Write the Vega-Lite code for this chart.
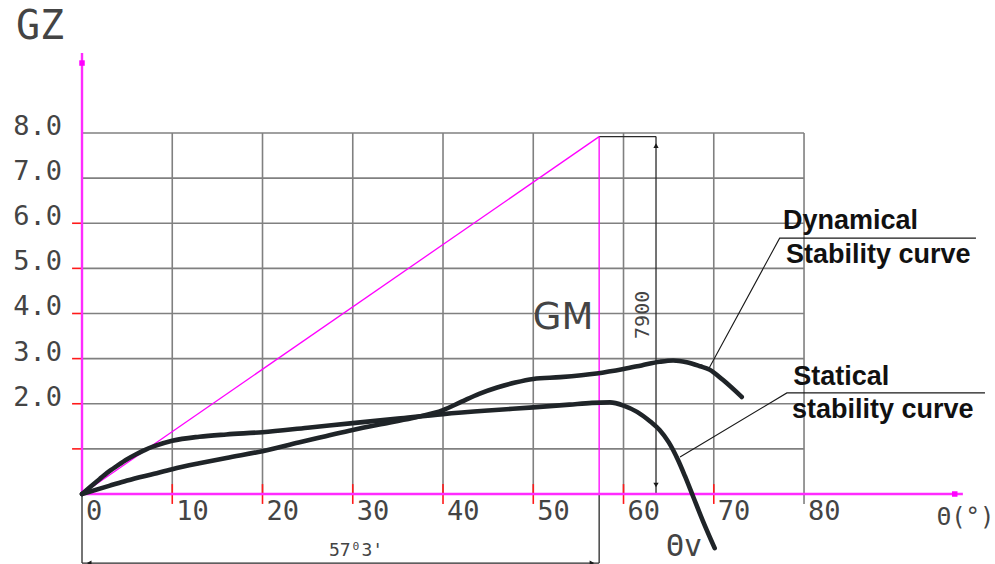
{
  "$schema": "https://vega.github.io/schema/vega-lite/v6.json",
  "width": 995,
  "height": 564,
  "autosize": {"type": "none"},
  "padding": 0,
  "background": "white",
  "config": {"view": {"stroke": null}, "axis": {"disable": true}, "legend": {"disable": true}},
  "datasets": {
    "gridV": [{"deg": 10}, {"deg": 20}, {"deg": 30}, {"deg": 40}, {"deg": 50}, {"deg": 60}, {"deg": 70}, {"deg": 80}],
    "gridH": [{"gz": 1}, {"gz": 2}, {"gz": 3}, {"gz": 4}, {"gz": 5}, {"gz": 6}, {"gz": 7}, {"gz": 8}],
    "xTicksRed": [{"deg": 10}, {"deg": 20}, {"deg": 30}, {"deg": 40}, {"deg": 50}, {"deg": 60}, {"deg": 70}],
    "xTicksGrey": [{"deg": 80}],
    "yTicksRed": [{"gz": 1}, {"gz": 2}, {"gz": 3}, {"gz": 4}, {"gz": 5}, {"gz": 6}],
    "xLabels": [
      {"deg": 0, "label": "0"}, {"deg": 10, "label": "10"}, {"deg": 20, "label": "20"}, {"deg": 30, "label": "30"},
      {"deg": 40, "label": "40"}, {"deg": 50, "label": "50"}, {"deg": 60, "label": "60"}, {"deg": 70, "label": "70"}, {"deg": 80, "label": "80"}
    ],
    "yLabels": [
      {"gz": 2, "label": "2.0"}, {"gz": 3, "label": "3.0"}, {"gz": 4, "label": "4.0"}, {"gz": 5, "label": "5.0"},
      {"gz": 6, "label": "6.0"}, {"gz": 7, "label": "7.0"}, {"gz": 8, "label": "8.0"}
    ],
    "dims": [
      {"x": 0, "y": 0, "x2": 0, "y2": -1.53},
      {"x": 57.3, "y": 0, "x2": 57.3, "y2": -1.53},
      {"x": 0, "y": -1.53, "x2": 57.3, "y2": -1.53},
      {"x": 57.3, "y": 7.92, "x2": 63.6, "y2": 7.92},
      {"x": 63.6, "y": 7.92, "x2": 63.6, "y2": 0}
    ],
    "gmLines": [
      {"x": 0, "y": 0, "x2": 57.3, "y2": 7.92},
      {"x": 57.3, "y": 0, "x2": 57.3, "y2": 7.92}
    ],
    "axes": [
      {"x": 0, "y": 0, "x2": 97.6, "y2": 0},
      {"x": 0, "y": 0, "x2": 0, "y2": 9.77}
    ],
    "axisEnds": [{"x": 0, "y": 9.55}, {"x": 96.7, "y": 0}],
    "arrows": [
      {"x": 63.6, "y": 7.72, "dir": "up"},
      {"x": 63.6, "y": 0.2, "dir": "down"},
      {"x": 0.8, "y": -1.53, "dir": "left"},
      {"x": 56.5, "y": -1.53, "dir": "right"}
    ],
    "leaders": [
      {"leader": "dyn", "step": 0, "x": 69.4, "y": 2.76},
      {"leader": "dyn", "step": 1, "x": 77.3, "y": 5.67},
      {"leader": "dyn", "step": 2, "x": 99.05, "y": 5.67},
      {"leader": "stat", "step": 0, "x": 66.26, "y": 0.82},
      {"leader": "stat", "step": 1, "x": 78.1, "y": 2.24},
      {"leader": "stat", "step": 2, "x": 100.05, "y": 2.24}
    ],
    "curves": [
      {"curve": "statical", "deg": 0, "gz": 0},
      {"curve": "statical", "deg": 1, "gz": 0.17},
      {"curve": "statical", "deg": 2, "gz": 0.34},
      {"curve": "statical", "deg": 3, "gz": 0.5},
      {"curve": "statical", "deg": 4, "gz": 0.64},
      {"curve": "statical", "deg": 5, "gz": 0.77},
      {"curve": "statical", "deg": 6, "gz": 0.88},
      {"curve": "statical", "deg": 7, "gz": 0.98},
      {"curve": "statical", "deg": 8, "gz": 1.06},
      {"curve": "statical", "deg": 10, "gz": 1.18},
      {"curve": "statical", "deg": 13, "gz": 1.27},
      {"curve": "statical", "deg": 16, "gz": 1.32},
      {"curve": "statical", "deg": 20, "gz": 1.37},
      {"curve": "statical", "deg": 25, "gz": 1.47},
      {"curve": "statical", "deg": 30, "gz": 1.57},
      {"curve": "statical", "deg": 35, "gz": 1.67},
      {"curve": "statical", "deg": 40, "gz": 1.77},
      {"curve": "statical", "deg": 45, "gz": 1.85},
      {"curve": "statical", "deg": 50, "gz": 1.92},
      {"curve": "statical", "deg": 54, "gz": 1.98},
      {"curve": "statical", "deg": 56.5, "gz": 2.02},
      {"curve": "statical", "deg": 58.5, "gz": 2.03},
      {"curve": "statical", "deg": 60, "gz": 1.96},
      {"curve": "statical", "deg": 61.5, "gz": 1.82},
      {"curve": "statical", "deg": 63, "gz": 1.6},
      {"curve": "statical", "deg": 64, "gz": 1.42},
      {"curve": "statical", "deg": 65, "gz": 1.15},
      {"curve": "statical", "deg": 66, "gz": 0.77},
      {"curve": "statical", "deg": 66.8, "gz": 0.4},
      {"curve": "statical", "deg": 67.7, "gz": -0.05},
      {"curve": "statical", "deg": 68.8, "gz": -0.6},
      {"curve": "statical", "deg": 70.1, "gz": -1.2},
      {"curve": "dynamical", "deg": 0, "gz": 0},
      {"curve": "dynamical", "deg": 3, "gz": 0.18},
      {"curve": "dynamical", "deg": 5, "gz": 0.3},
      {"curve": "dynamical", "deg": 8, "gz": 0.45},
      {"curve": "dynamical", "deg": 10, "gz": 0.55},
      {"curve": "dynamical", "deg": 13, "gz": 0.68},
      {"curve": "dynamical", "deg": 16, "gz": 0.8},
      {"curve": "dynamical", "deg": 20, "gz": 0.95},
      {"curve": "dynamical", "deg": 24, "gz": 1.14},
      {"curve": "dynamical", "deg": 27, "gz": 1.28},
      {"curve": "dynamical", "deg": 30, "gz": 1.42},
      {"curve": "dynamical", "deg": 34, "gz": 1.58},
      {"curve": "dynamical", "deg": 37, "gz": 1.7},
      {"curve": "dynamical", "deg": 40, "gz": 1.86},
      {"curve": "dynamical", "deg": 42, "gz": 2.04},
      {"curve": "dynamical", "deg": 44, "gz": 2.22},
      {"curve": "dynamical", "deg": 46, "gz": 2.36},
      {"curve": "dynamical", "deg": 48, "gz": 2.47},
      {"curve": "dynamical", "deg": 50, "gz": 2.55},
      {"curve": "dynamical", "deg": 53, "gz": 2.59},
      {"curve": "dynamical", "deg": 57, "gz": 2.67},
      {"curve": "dynamical", "deg": 60, "gz": 2.77},
      {"curve": "dynamical", "deg": 62, "gz": 2.85},
      {"curve": "dynamical", "deg": 64, "gz": 2.93},
      {"curve": "dynamical", "deg": 65.5, "gz": 2.96},
      {"curve": "dynamical", "deg": 67, "gz": 2.92},
      {"curve": "dynamical", "deg": 68.5, "gz": 2.83},
      {"curve": "dynamical", "deg": 69.5, "gz": 2.76},
      {"curve": "dynamical", "deg": 71, "gz": 2.53},
      {"curve": "dynamical", "deg": 73.1, "gz": 2.15}
    ],
    "tGZ": [{"x": -4.65, "y": 10.35, "label": "GZ"}],
    "tGM": [{"x": 53.3, "y": 3.9, "label": "GM"}],
    "t7900": [{"x": 62.16, "y": 3.97, "label": "7900"}],
    "tAngle": [{"x": 30.36, "y": -1.26, "label": "57⁰3'"}],
    "tThetaV": [{"x": 66.7, "y": -1.17, "label": "Θv"}],
    "tTheta": [{"x": 97.9, "y": -0.53, "label": "Θ(°)"}],
    "tBold": [
      {"x": 77.67, "y": 5.87, "label": "Dynamical"},
      {"x": 78.0, "y": 5.12, "label": "Stability curve"},
      {"x": 78.8, "y": 2.42, "label": "Statical"},
      {"x": 78.67, "y": 1.68, "label": "stability curve"}
    ]
  },
  "layer": [
    {
      "data": {"name": "gridV"},
      "mark": {"type": "rule", "color": "#808080", "strokeWidth": 1.6},
      "encoding": {
        "x": {"field": "deg", "type": "quantitative", "scale": {"domain": [-9.086, 101.16], "nice": false, "zero": false}},
        "y": {"datum": 0, "scale": {"domain": [-1.551, 10.947], "nice": false, "zero": false}},
        "y2": {"datum": 8}
      }
    },
    {
      "data": {"name": "gridH"},
      "mark": {"type": "rule", "color": "#808080", "strokeWidth": 1.6},
      "encoding": {
        "x": {"datum": 0},
        "x2": {"datum": 80},
        "y": {"field": "gz", "type": "quantitative"}
      }
    },
    {
      "data": {"name": "xTicksRed"},
      "mark": {"type": "rule", "color": "#ff1a1a", "strokeWidth": 1.6},
      "encoding": {
        "x": {"field": "deg", "type": "quantitative"},
        "y": {"datum": -0.22},
        "y2": {"datum": 0.22}
      }
    },
    {
      "data": {"name": "xTicksGrey"},
      "mark": {"type": "rule", "color": "#808080", "strokeWidth": 1.6},
      "encoding": {
        "x": {"field": "deg", "type": "quantitative"},
        "y": {"datum": -0.22},
        "y2": {"datum": 0}
      }
    },
    {
      "data": {"name": "yTicksRed"},
      "mark": {"type": "rule", "color": "#ff1a1a", "strokeWidth": 1.6},
      "encoding": {
        "x": {"datum": -1.1},
        "x2": {"datum": 0},
        "y": {"field": "gz", "type": "quantitative"}
      }
    },
    {
      "data": {"name": "dims"},
      "mark": {"type": "rule", "color": "#2a2a2a", "strokeWidth": 1.3},
      "encoding": {
        "x": {"field": "x", "type": "quantitative"},
        "y": {"field": "y", "type": "quantitative"},
        "x2": {"field": "x2"},
        "y2": {"field": "y2"}
      }
    },
    {
      "data": {"name": "gmLines"},
      "mark": {"type": "rule", "color": "#ff00ff", "strokeWidth": 1.3},
      "encoding": {
        "x": {"field": "x", "type": "quantitative"},
        "y": {"field": "y", "type": "quantitative"},
        "x2": {"field": "x2"},
        "y2": {"field": "y2"}
      }
    },
    {
      "data": {"name": "axes"},
      "mark": {"type": "rule", "color": "#ff2bff", "strokeWidth": 2.4},
      "encoding": {
        "x": {"field": "x", "type": "quantitative"},
        "y": {"field": "y", "type": "quantitative"},
        "x2": {"field": "x2"},
        "y2": {"field": "y2"}
      }
    },
    {
      "data": {"name": "axisEnds"},
      "mark": {"type": "point", "shape": "square", "filled": true, "color": "#ff00ff", "size": 30, "opacity": 1},
      "encoding": {
        "x": {"field": "x", "type": "quantitative"},
        "y": {"field": "y", "type": "quantitative"}
      }
    },
    {
      "data": {"name": "leaders"},
      "mark": {"type": "line", "color": "#1a1a1a", "strokeWidth": 1.1},
      "encoding": {
        "x": {"field": "x", "type": "quantitative"},
        "y": {"field": "y", "type": "quantitative"},
        "detail": {"field": "leader"},
        "order": {"field": "step", "type": "quantitative"}
      }
    },
    {
      "data": {"name": "curves"},
      "mark": {"type": "line", "color": "#1f2428", "strokeWidth": 4.6, "interpolate": "monotone", "strokeCap": "round", "strokeJoin": "round"},
      "encoding": {
        "x": {"field": "deg", "type": "quantitative"},
        "y": {"field": "gz", "type": "quantitative"},
        "detail": {"field": "curve"}
      }
    },
    {
      "data": {"name": "arrows"},
      "mark": {"type": "point", "filled": true, "color": "#1a1a1a", "size": 28, "opacity": 1},
      "encoding": {
        "x": {"field": "x", "type": "quantitative"},
        "y": {"field": "y", "type": "quantitative"},
        "shape": {"field": "dir", "type": "nominal", "scale": {"domain": ["up", "down", "left", "right"], "range": ["triangle-up", "triangle-down", "triangle-left", "triangle-right"]}, "legend": null}
      }
    },
    {
      "data": {"name": "xLabels"},
      "mark": {"type": "text", "font": "DejaVu Sans Mono", "fontSize": 27, "align": "left", "baseline": "middle", "dx": 4, "color": "#444444"},
      "encoding": {
        "x": {"field": "deg", "type": "quantitative"},
        "y": {"datum": -0.4},
        "text": {"field": "label"}
      }
    },
    {
      "data": {"name": "yLabels"},
      "mark": {"type": "text", "font": "DejaVu Sans Mono", "fontSize": 27, "align": "right", "baseline": "middle", "dy": -6, "color": "#444444"},
      "encoding": {
        "x": {"datum": -2.22},
        "y": {"field": "gz", "type": "quantitative"},
        "text": {"field": "label"}
      }
    },
    {
      "data": {"name": "tGZ"},
      "mark": {"type": "text", "font": "DejaVu Sans Mono", "fontSize": 40, "align": "center", "baseline": "middle", "color": "#444444"},
      "encoding": {
        "x": {"field": "x", "type": "quantitative"},
        "y": {"field": "y", "type": "quantitative"},
        "text": {"field": "label"}
      }
    },
    {
      "data": {"name": "tGM"},
      "mark": {"type": "text", "font": "DejaVu Sans", "fontSize": 37, "align": "center", "baseline": "middle", "color": "#444444"},
      "encoding": {
        "x": {"field": "x", "type": "quantitative"},
        "y": {"field": "y", "type": "quantitative"},
        "text": {"field": "label"}
      }
    },
    {
      "data": {"name": "t7900"},
      "mark": {"type": "text", "font": "DejaVu Sans Mono", "fontSize": 20, "align": "center", "baseline": "middle", "angle": 270, "color": "#444444"},
      "encoding": {
        "x": {"field": "x", "type": "quantitative"},
        "y": {"field": "y", "type": "quantitative"},
        "text": {"field": "label"}
      }
    },
    {
      "data": {"name": "tAngle"},
      "mark": {"type": "text", "font": "DejaVu Sans Mono", "fontSize": 18, "align": "center", "baseline": "middle", "color": "#444444"},
      "encoding": {
        "x": {"field": "x", "type": "quantitative"},
        "y": {"field": "y", "type": "quantitative"},
        "text": {"field": "label"}
      }
    },
    {
      "data": {"name": "tThetaV"},
      "mark": {"type": "text", "font": "DejaVu Sans Mono", "fontSize": 30, "align": "center", "baseline": "middle", "color": "#444444"},
      "encoding": {
        "x": {"field": "x", "type": "quantitative"},
        "y": {"field": "y", "type": "quantitative"},
        "text": {"field": "label"}
      }
    },
    {
      "data": {"name": "tTheta"},
      "mark": {"type": "text", "font": "DejaVu Sans Mono", "fontSize": 24, "align": "center", "baseline": "middle", "color": "#444444"},
      "encoding": {
        "x": {"field": "x", "type": "quantitative"},
        "y": {"field": "y", "type": "quantitative"},
        "text": {"field": "label"}
      }
    },
    {
      "data": {"name": "tBold"},
      "mark": {"type": "text", "font": "Liberation Sans", "fontWeight": "bold", "fontSize": 27, "align": "left", "baseline": "alphabetic", "color": "#111111"},
      "encoding": {
        "x": {"field": "x", "type": "quantitative"},
        "y": {"field": "y", "type": "quantitative"},
        "text": {"field": "label"}
      }
    }
  ]
}
